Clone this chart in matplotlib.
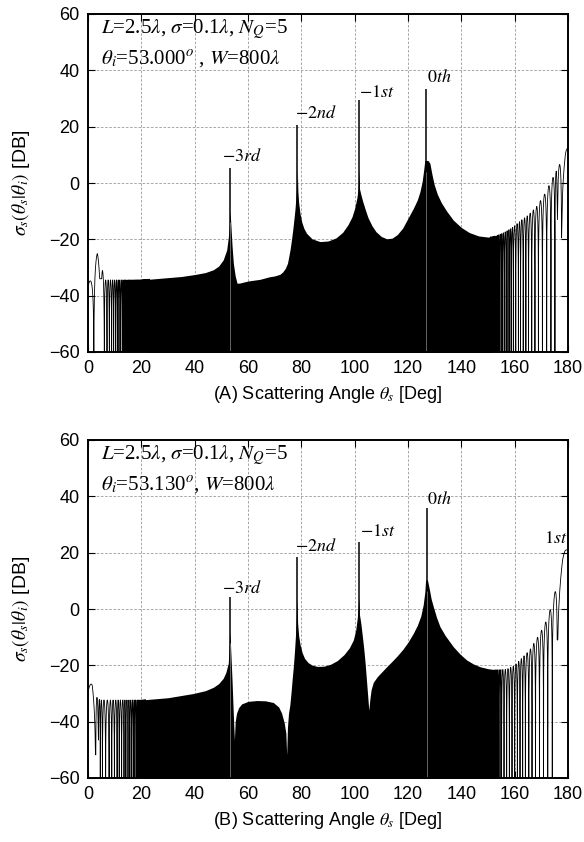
import matplotlib
matplotlib.use("Agg")
import matplotlib.pyplot as plt
import numpy as np

plt.rcParams['font.family'] = ['Liberation Sans', 'DejaVu Sans']
plt.rcParams['mathtext.fontset'] = 'stix'

# ---------------- panel A : theta_i = 53.000 ----------------
# upper envelope of the scattering pattern (deg, dB)
a_env_ang = [0, 1.0, 2.2, 3.5, 4.3, 4.8, 5.4, 6.5, 20, 25, 30, 35, 40, 44, 47, 49, 50.7,
             52, 52.6, 53.0, 53.2, 53.4, 54.0, 54.5, 55.2, 55.9, 57, 60, 64.5, 68, 70, 72,
             73, 74, 74.8, 75.3, 75.8, 76.3, 76.8, 77.2, 77.6, 77.9, 78.2, 78.4, 78.5,
             78.7, 79.0, 79.5, 80.2, 81, 82, 84, 87, 90, 93, 95.5, 97.5, 99, 100, 100.8,
             101.3, 101.6, 101.8, 102.3, 103, 104, 105, 106.5, 108, 110, 112, 114, 116,
             118, 120, 122, 123.5, 124.5, 125.3, 125.8, 126.3, 127.5, 128.2, 129, 129.8,
             131, 132.5, 134.5, 137, 140, 143, 146.5, 150, 153, 156, 158.9, 162.6, 165.1,
             168.2, 171.4, 173.9, 176.1, 178.3, 179.1, 180, 183]
a_env_db = [-36.8, -33, -28, -25, -28, -31, -31, -34.4, -34.4, -34.0, -33.6, -33.2, -32.5,
            -31.8, -30.8, -29.5, -27.3, -23.8, -19.5, -15, -10, -12, -22, -28.5, -33,
            -35.6, -35.5, -34.8, -34.2, -33.3, -33, -32.4, -31.6, -30.3, -28.5, -26.1,
            -23.5, -20.2, -16.5, -13.1, -9.5, -6, -2, 1.1, 5, -3, -7, -10.8, -14, -16.2,
            -17.9, -19.8, -20.8, -20.6, -19.5, -17.5, -14.8, -12, -9, -5.5, -2, 5, -2, -4,
            -6.5, -9.5, -12.3, -15.2, -17.3, -19, -19.8, -19.6, -18.3, -16, -12.5, -9, -6,
            -3, 0.5, 4, 8, 8, 7, 3, -0.5, -4, -7, -10, -13.2, -15.8, -17.6, -18.8, -19.2,
            -18.8, -17.6, -16, -13.1, -11.4, -8.4, -3.7, 1.1, 5.2, 9.3, 12.3, 12.5, 12.5]
# resolved nulls at both ends of the angular range (deg)
a_left_nulls = [-1.8, 2.2, 4.8, 6.12, 7.12, 8.0, 8.87, 9.62, 10.37, 11.0, 11.62, 12.25,
                12.87, 13.37, 13.87, 14.37, 14.87, 15.37, 15.75, 16.12, 16.5, 16.87, 17.25,
                17.6, 17.95, 18.3, 18.6, 18.9, 19.2, 19.5, 19.8, 20.05, 20.3, 20.55, 20.8,
                21.05, 21.3, 21.5, 21.7, 21.9, 22.1, 22.3, 22.5, 22.7, 22.9, 23.1]
a_right_nulls = [150.8, 151.3, 151.8, 152.3, 152.8, 153.3, 153.8, 154.3, 154.9, 155.5,
                 156.1, 156.8, 157.5, 158.2, 158.8, 159.5, 160.4, 161.4, 162.2, 163.2,
                 164.2, 165.2, 166.4, 167.6, 168.9, 170.4, 172.0, 173.6, 175.1, 176.0,
                 177.6, 182.4]
a_partial = {4.8: -34, 176.0: -13, 177.6: -19.5}
a_dense = (22.6, 151.0)
a_spike_ang = [53.2, 78.5, 101.6, 126.9]
a_spike_db = [5.2, 20.6, 29.5, 33.3]
a_spike_txt = [r'$-3rd$', r'$-2nd$', r'$-1st$', r'$0th$']
a_txt_pos = [(50.1, 9.5), (77.6, 24.5), (101.6, 32.3), (127.0, 37.5)]
a_info = [r'$L$=2.5$\lambda$, $\sigma$=0.1$\lambda$, $N_Q$=5',
          r'$\theta_i$=53.000$^o$ , $W$=800$\lambda$']

# ---------------- panel B : theta_i = 53.130 ----------------
b_env_ang = [0, 1.6, 2.4, 3.4, 4.5, 20, 30, 39.5, 44, 47, 49, 50.7, 51.7, 52.6, 53.0, 53.2,
             53.4, 54.0, 54.6, 54.9, 55.2, 55.7, 56.5, 57.6, 60, 63.3, 66.5, 69.5, 71.5,
             72.6, 73.6, 74.2, 74.5, 74.8, 75.2, 75.7, 76.2, 76.6, 77, 77.4, 77.8, 78.1,
             78.3, 78.4, 78.6, 79, 79.5, 80.3, 81.2, 82.5, 84, 86, 88.5, 91, 93.5, 96, 98,
             99.5, 100.4, 101, 101.3, 101.6, 101.8, 102.3, 102.8, 103.4, 103.9, 104.4,
             104.9, 105.3, 105.7, 106.2, 107, 108.5, 110, 112, 114, 116, 118, 120, 122,
             123.5, 124.8, 125.7, 126.3, 126.6, 127.3, 128, 128.7, 129.5, 130.7, 132, 134,
             137, 139.5, 142, 144.5, 147, 150, 153.2, 157, 160, 162, 165.7, 169.5, 172,
             174.5, 176.3, 178, 178.9, 180, 183]
b_env_db = [-29, -24.5, -27, -31.5, -32.3, -32.3, -31.5, -30, -29, -27.8, -26.5, -24.6,
            -22.5, -19.3, -12, -8, -12, -25, -40, -46.5, -40, -37, -35, -33.7, -32.8,
            -32.5, -32.6, -33.2, -34.8, -37, -40.5, -44.1, -51.8, -42, -37, -34, -29,
            -24.5, -20.5, -15.5, -9.5, -4, 1, 4, -5, -9.5, -12.5, -15.5, -17.5, -19,
            -19.9, -20.4, -20.3, -19.6, -18.3, -16.2, -13.8, -11, -7.5, -3, 0.8, 4, -2, -5,
            -9, -14, -19, -25, -31, -36, -32, -28.5, -26, -24, -22.5, -20.5, -18.6, -16.6,
            -14.4, -11.8, -8.6, -5.8, -2.5, 1.5, 6, 10.3, 10.3, 7, 3.5, 0.8, -3, -6.3,
            -9.5, -13.4, -16, -18.1, -19.5, -20.5, -21.2, -21.6, -21.4, -20, -18.1, -14.5,
            -8.6, -3.9, 3.2, 11.5, 19.8, 21, 21, 21]
b_left_nulls = [-2.0, 2.9, 3.9, 4.6, 5.4, 6.6, 7.9, 8.9, 9.9, 10.9, 11.7, 12.6, 13.5, 14.2,
                15.0, 15.7, 16.4, 17.0, 17.6, 18.2, 18.7, 19.2, 19.7, 20.1, 20.5, 20.9,
                21.3, 21.7]
b_right_nulls = [152.4, 152.9, 153.4, 153.9, 154.5, 155.1, 156.0, 157.0, 158.0, 159.0,
                 160.0, 161.0, 162.0, 163.0, 164.0, 165.3, 166.5, 167.8, 169.3, 170.8,
                 172.4, 174.1, 176.0, 183.0]
b_partial = {2.9: -51.8, 3.9: -46.5, 176.0: -11}
b_dense = (21.2, 152.6)
b_spike_ang = [53.2, 78.4, 101.6, 127.0]
b_spike_db = [4.4, 18.6, 23.9, 35.7]
b_spike_txt = [r'$-3rd$', r'$-2nd$', r'$-1st$', r'$0th$', r'$1st$']
b_txt_pos = [(50.1, 7.3), (77.6, 22.1), (102.0, 27.4), (127.0, 38.7), (171.0, 25.1)]
b_info = [r'$L$=2.5$\lambda$, $\sigma$=0.1$\lambda$, $N_Q$=5',
          r'$\theta_i$=53.130$^o$, $W$=800$\lambda$']

# spikes whose stem shows as a grey line through the black area
grey_stems = [53.2, 127.0, 126.9]

SERIF = ['Liberation Serif', 'DejaVu Serif']


def lobes(nulls, partial, env_a, env_d, npts=40):
	# arches between successive nulls, topped by the envelope
	xs, ys = [], []
	for a, b in zip(nulls[:-1], nulls[1:]):
		t = np.linspace(0, 1, npts)
		x = a + (b - a) * t
		shape = 20 * np.log10(np.maximum(np.sin(np.pi * t), 1e-6))
		floor = np.where(t < 0.5, partial.get(a, -75), partial.get(b, -75))
		y = np.maximum(np.interp(x, env_a, env_d) + shape, floor)
		xs.append(x)
		ys.append(y)
	return np.concatenate(xs), np.concatenate(ys)


def drawPanel(ax, env_a, env_d, lnulls, rnulls, partial, dense, sp_a, sp_d,
              txt, txt_pos, info, xlabel):
	env_a = np.array(env_a, float)
	env_d = np.array(env_d, float)

	# dense part of the pattern: solid black below the envelope
	x = np.linspace(dense[0], dense[1], 3000)
	x = np.union1d(x, env_a[(env_a > dense[0]) & (env_a < dense[1])])
	ax.fill_between(x, np.interp(x, env_a, env_d), -70, color='k', lw=0, zorder=3)

	for nl in (lnulls, rnulls):
		lx, ly = lobes(nl, partial, env_a, env_d)
		ax.plot(lx, ly, color='k', lw=0.6, zorder=3)

	for a, d in zip(sp_a, sp_d):
		ax.vlines(a, -70, d, color='k', lw=1.1, zorder=4)
		if a in grey_stems:
			ax.vlines(a, -60, np.interp(a, env_a, env_d) - 4, color='0.45', lw=0.6, zorder=5)

	for s, (tx, ty) in zip(txt, txt_pos):
		ax.text(tx, ty, s, fontsize=13, ha='left', va='center', family=SERIF, zorder=6)

	ax.text(4.9, 54.6, info[0], fontsize=15, ha='left', va='center', family=SERIF, zorder=6)
	ax.text(4.9, 43.8, info[1], fontsize=15, ha='left', va='center', family=SERIF, zorder=6)

	ax.set_xlim(0, 180)
	ax.set_ylim(-60, 60)
	ax.set_xticks(np.arange(0, 181, 20))
	ax.set_yticks(np.arange(-60, 61, 20))
	ax.grid(True, color='0.6', ls=(0, (3, 2)), lw=0.6, zorder=0)
	ax.set_axisbelow(True)
	ax.tick_params(direction='in', length=5, width=0.8, top=True, right=True,
	               labelsize=13, pad=6)
	for sp in ax.spines.values():
		sp.set_linewidth(1.4)
		sp.set_zorder(7)
	ax.set_xlabel(xlabel, fontsize=13, labelpad=5)
	ax.set_ylabel(r'$\sigma_s(\theta_s|\theta_i)$ [DB]', fontsize=14, labelpad=12)


fig = plt.figure(figsize=(5.84, 8.42), dpi=100)
axA = fig.add_axes([88/584, 1-352/842, 480/584, 338/842])
axB = fig.add_axes([88/584, 1-778/842, 480/584, 338/842])

drawPanel(axA, a_env_ang, a_env_db, a_left_nulls, a_right_nulls, a_partial, a_dense,
          a_spike_ang, a_spike_db, a_spike_txt, a_txt_pos, a_info,
          r'(A) Scattering Angle $\theta_s$ [Deg]')
drawPanel(axB, b_env_ang, b_env_db, b_left_nulls, b_right_nulls, b_partial, b_dense,
          b_spike_ang, b_spike_db, b_spike_txt, b_txt_pos, b_info,
          r'(B) Scattering Angle $\theta_s$ [Deg]')

fig.savefig('out.png', dpi=100)
